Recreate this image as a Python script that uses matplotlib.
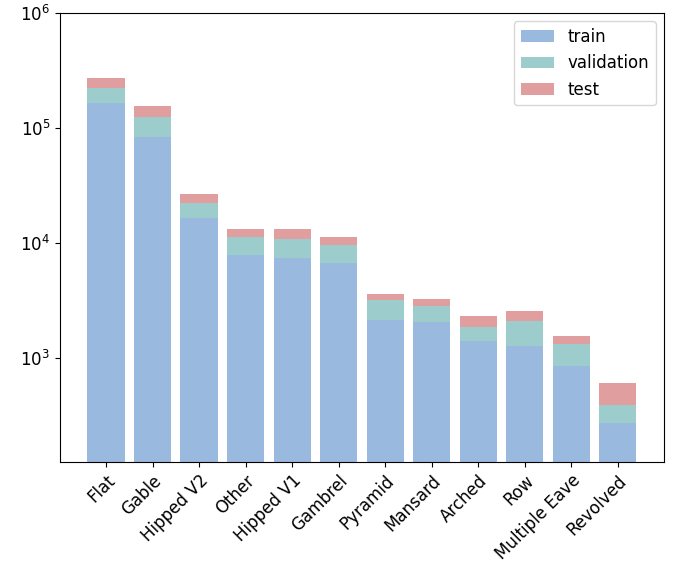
import matplotlib
matplotlib.use("Agg")
import matplotlib.pyplot as plt
import numpy as np

categories = ["Flat", "Gable", "Hipped V2", "Other", "Hipped V1", "Gambrel",
              "Pyramid", "Mansard", "Arched", "Row", "Multiple Eave", "Revolved"]
train = [167000, 84000, 16400, 7900, 7400, 6750, 2140, 2060, 1410, 1270, 850, 272]
validation = [56000, 41000, 5900, 3300, 3400, 2850, 1050, 770, 450, 820, 480, 121]
test = [50000, 30000, 4700, 2000, 2400, 1700, 420, 450, 450, 490, 240, 217]

x = np.arange(len(categories))
train = np.array(train)
validation = np.array(validation)
test = np.array(test)

fig = plt.figure(figsize=(6.74, 5.71), dpi=100)
ax = fig.add_axes([0.089, 0.191, 0.896, 0.786])

ax.bar(x, train, width=0.8, color="#9ab9df", linewidth=0, label="train")
ax.bar(x, validation, width=0.8, bottom=train, color="#9ccdcc", linewidth=0, label="validation")
ax.bar(x, test, width=0.8, bottom=train + validation, color="#e09e9e", linewidth=0, label="test")

ax.set_yscale("log")
ax.set_ylim(125, 1e6)
ax.set_xticks(x)
ax.set_xticklabels(categories, rotation=45, ha="right", rotation_mode="anchor", fontsize=12)
ax.tick_params(axis="y", labelsize=12)
ax.tick_params(axis="y", which="minor", left=False)
ax.legend(fontsize=12)

plt.savefig("out.png", dpi=100)
plt.close()
